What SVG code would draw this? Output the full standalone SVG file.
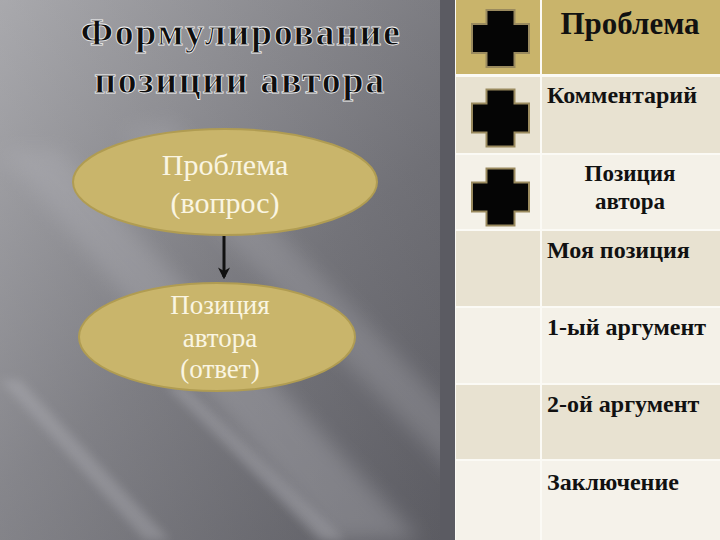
<svg xmlns="http://www.w3.org/2000/svg" width="720" height="540" viewBox="0 0 720 540">
<defs>
<linearGradient id="bg" x1="0" y1="0" x2="1" y2="1">
<stop offset="0" stop-color="#a6a6aa"/>
<stop offset="0.45" stop-color="#74747a"/>
<stop offset="1" stop-color="#4e4e55"/>
</linearGradient>
<linearGradient id="bgtop" x1="0" y1="0" x2="1" y2="0">
<stop offset="0" stop-color="#b0b0b4" stop-opacity="0.6"/>
<stop offset="1" stop-color="#5a5a60" stop-opacity="0.4"/>
</linearGradient>
<filter id="blur" x="-20%" y="-20%" width="140%" height="140%"><feGaussianBlur stdDeviation="10"/></filter>
<filter id="blur2" x="-20%" y="-20%" width="140%" height="140%"><feGaussianBlur stdDeviation="5"/></filter>
<path id="cross" d="M-14,-28.5 H14 V-14.5 H28.5 V14.5 H14 V28.5 H-14 V14.5 H-28.5 V-14.5 H-14 Z"/>
<marker id="arr" viewBox="0 0 10 10" refX="8" refY="5" markerWidth="4" markerHeight="4" orient="auto" markerUnits="strokeWidth">
<path d="M0,0 L10,5 L0,10 L3,5 Z" fill="#111"/>
</marker>
<style>
.title{font-family:"Liberation Serif","DejaVu Serif",serif;font-weight:bold;font-size:38px;fill:#0e0e0e;stroke:#f4f4f4;stroke-width:0.8px;letter-spacing:1.6px;text-anchor:middle}
.ell{fill:#c9b56b;stroke:#b09c52;stroke-width:2}
.et{font-family:"Liberation Serif","DejaVu Serif",serif;fill:#faf5e2;text-anchor:middle}
.tt{font-family:"Liberation Serif","DejaVu Serif",serif;font-weight:bold;fill:#111;font-size:24px}
.cr{fill:#050505;stroke:#9a8a5e;stroke-width:2}
</style>
</defs>
<!-- background -->
<rect x="0" y="0" width="720" height="540" fill="url(#bg)"/>
<rect x="0" y="0" width="460" height="540" fill="url(#bgtop)" opacity="0.5"/>
<g opacity="0.35" filter="url(#blur)">
<polygon points="0,150 60,150 420,540 330,540" fill="#b4b4ba"/>
<polygon points="120,130 170,120 460,420 460,480" fill="#a8a8ae"/>
</g>
<g opacity="0.3" filter="url(#blur2)">
<polygon points="0,380 20,380 170,540 145,540" fill="#c0c0c6"/>
<polygon points="165,385 185,385 345,540 320,540" fill="#c0c0c6"/>
</g>
<rect x="440" y="0" width="15" height="540" fill="#5b5b62"/>
<!-- table -->
<g id="table">
<rect x="455" y="0" width="265" height="540" fill="#fbfaf5"/>
<rect x="456" y="0" width="84" height="74" fill="#c9b46b"/>
<rect x="542" y="0" width="178" height="74" fill="#c9b46b"/>
<rect x="456" y="77" width="84" height="76" fill="#e8e2d1"/>
<rect x="542" y="77" width="178" height="76" fill="#e8e2d1"/>
<rect x="456" y="155" width="84" height="74" fill="#f4f1e8"/>
<rect x="542" y="155" width="178" height="74" fill="#f4f1e8"/>
<rect x="456" y="231" width="84" height="75" fill="#e8e2d1"/>
<rect x="542" y="231" width="178" height="75" fill="#e8e2d1"/>
<rect x="456" y="308" width="84" height="75" fill="#f4f1e8"/>
<rect x="542" y="308" width="178" height="75" fill="#f4f1e8"/>
<rect x="456" y="385" width="84" height="74" fill="#e8e2d1"/>
<rect x="542" y="385" width="178" height="74" fill="#e8e2d1"/>
<rect x="456" y="461" width="84" height="79" fill="#f5f2ea"/>
<rect x="542" y="461" width="178" height="79" fill="#f5f2ea"/>
</g>
<g id="row1">
<use href="#cross" x="500.5" y="38.5" class="cr"/>
<text class="tt" x="630" y="34" text-anchor="middle" style="font-size:31px">Проблема</text>
</g>
<g id="row2">
<use href="#cross" x="500.5" y="118" class="cr"/>
<text class="tt" x="622" y="103" text-anchor="middle">Комментарий</text>
</g>
<g id="row3">
<use href="#cross" x="500.5" y="197" class="cr"/>
<text class="tt" x="630" y="181" text-anchor="middle" style="font-size:23px">Позиция</text>
<text class="tt" x="630" y="209" text-anchor="middle" style="font-size:23px">автора</text>
</g>
<g id="row4"><text class="tt" x="547" y="258">Моя позиция</text></g>
<g id="row5"><text class="tt" x="547" y="335">1-ый аргумент</text></g>
<g id="row6"><text class="tt" x="547" y="412">2-ой аргумент</text></g>
<g id="row7"><text class="tt" x="547" y="490">Заключение</text></g>
<!-- title -->
<g id="title">
<text class="title" x="241" y="45">Формулирование</text>
<text class="title" x="240" y="93">позиции автора</text>
</g>
<!-- connectors -->
<g id="connectors">
<line x1="224" y1="235" x2="224" y2="277" stroke="#111" stroke-width="3" marker-end="url(#arr)"/>
</g>
<g id="node-problem">
<ellipse class="ell" cx="225" cy="182" rx="152" ry="53"/>
<text class="et" x="225" y="175" font-size="30">Проблема</text>
<text class="et" x="225" y="213" font-size="30">(вопрос)</text>
</g>
<g id="node-position">
<ellipse class="ell" cx="217" cy="337" rx="138" ry="54"/>
<text class="et" x="220" y="314" font-size="27">Позиция</text>
<text class="et" x="220" y="347" font-size="27">автора</text>
<text class="et" x="220" y="378" font-size="27">(ответ)</text>
</g>
</svg>
